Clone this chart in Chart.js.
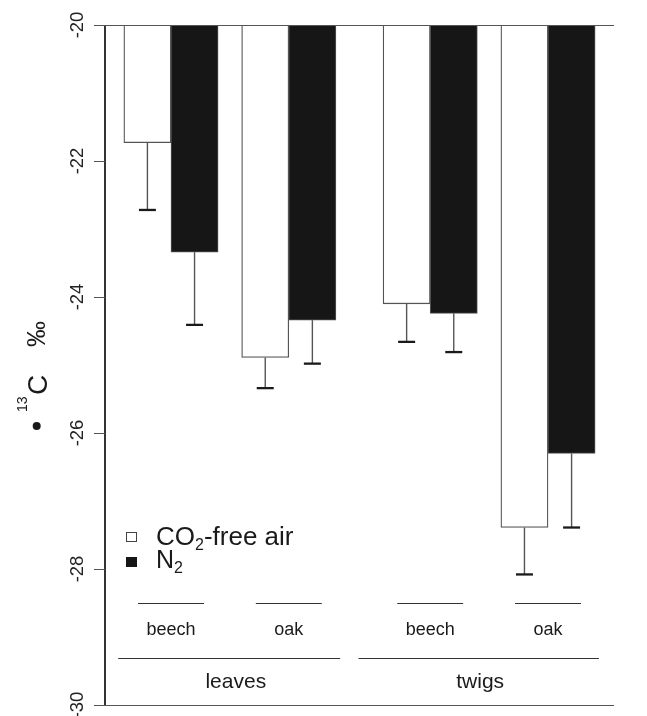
<!DOCTYPE html>
<html>
<head>
<meta charset="utf-8">
<script src="https://cdn.jsdelivr.net/npm/chart.js@4/dist/chart.umd.min.js"></script>
<style>
  body { margin: 0; background: #fff; }
  #wrap { width: 647px; height: 716px; }
</style>
</head>
<body>
<div id="wrap"><canvas id="grafico" width="647" height="716"></canvas></div>
<script>
// dados
const tissues = ['leaves', 'leaves', 'twigs', 'twigs'];
const species = ['beech', 'oak', 'beech', 'oak'];
const seriesNames = ['CO₂-free air', 'N₂'];
const co2Free = [-21.73, -24.89, -24.10, -27.39];
const co2FreeErr = [0.99, 0.45, 0.56, 0.69];
const n2 = [-23.34, -24.34, -24.24, -26.30];
const n2Err = [1.07, 0.64, 0.57, 1.09];
const yTicks = [-20, -22, -24, -26, -28, -30];
const yTitle = ['•', '13', 'C', '‰'];

const FONT = '"Liberation Sans", Arial, Helvetica, sans-serif';

// posicao de cada grupo no eixo x (estilo barplot do R: espaco 0.5 dentro, 1 entre tecidos)
let inicio = [];
let p = 0;
species.forEach((s, i) => {
  if (i > 0) p += tissues[i] !== tissues[i - 1] ? 1 : 0.5;
  inicio.push(p);
  p += 2;
});
const xMax = p;

const dadosBranco = co2Free.map((v, i) => ({ x: inicio[i] + 0.5, y: v }));
const dadosPreto = n2.map((v, i) => ({ x: inicio[i] + 1.5, y: v }));

function textoSub(ctx, txt, x, y, size) {
  // desenha o "₂" como subscrito
  let partes = txt.split('₂');
  let cx = x;
  partes.forEach((parte, i) => {
    ctx.font = size + 'px ' + FONT;
    ctx.fillText(parte, cx, y);
    cx += ctx.measureText(parte).width;
    if (i < partes.length - 1) {
      ctx.font = Math.round(size * 0.62) + 'px ' + FONT;
      ctx.fillText('2', cx, y + size * 0.2);
      cx += ctx.measureText('2').width;
    }
  });
}

const extras = {
  id: 'extras',
  afterDatasetsDraw(chart) {
    let ctx = chart.ctx;
    let xs = chart.scales.x;
    let ys = chart.scales.y;
    let area = chart.chartArea;
    ctx.save();

    // barras de erro
    [[dadosBranco, co2FreeErr], [dadosPreto, n2Err]].forEach(([dados, err]) => {
      dados.forEach((d, i) => {
        let px = xs.getPixelForValue(d.x);
        let y0 = ys.getPixelForValue(d.y);
        let y1 = ys.getPixelForValue(d.y - err[i]);
        ctx.strokeStyle = '#555';
        ctx.lineWidth = 1.4;
        ctx.beginPath();
        ctx.moveTo(px, y0);
        ctx.lineTo(px, y1);
        ctx.stroke();
        ctx.strokeStyle = '#1a1a1a';
        ctx.lineWidth = 2.3;
        ctx.beginPath();
        ctx.moveTo(px - 8.5, y1);
        ctx.lineTo(px + 8.5, y1);
        ctx.stroke();
      });
    });

    // eixo y
    ctx.strokeStyle = '#333';
    ctx.lineWidth = 2;
    ctx.beginPath();
    ctx.moveTo(area.left, ys.getPixelForValue(-20));
    ctx.lineTo(area.left, ys.getPixelForValue(-30));
    ctx.stroke();

    ctx.lineWidth = 1;
    ctx.strokeStyle = '#555';
    yTicks.forEach(t => {
      let py = Math.round(ys.getPixelForValue(t)) + 0.5;
      let fim = (t === yTicks[0] || t === yTicks[yTicks.length - 1]) ? area.right : area.left;
      ctx.beginPath();
      ctx.moveTo(area.left - 11, py);
      ctx.lineTo(fim, py);
      ctx.stroke();
      ctx.save();
      ctx.translate(area.left - 22.5, ys.getPixelForValue(t));
      ctx.rotate(-Math.PI / 2);
      ctx.fillStyle = '#222';
      ctx.font = '18.5px ' + FONT;
      ctx.textAlign = 'center';
      ctx.textBaseline = 'alphabetic';
      ctx.fillText(String(t), 0, 0);
      ctx.restore();
    });

    // titulo do eixo y
    ctx.save();
    ctx.translate(46.7, 0);
    ctx.rotate(-Math.PI / 2);
    ctx.fillStyle = '#1a1a1a';
    ctx.beginPath();
    ctx.arc(-426, -10, 4, 0, Math.PI * 2);
    ctx.fill();
    ctx.textBaseline = 'alphabetic';
    ctx.font = '14px ' + FONT;
    ctx.fillText(yTitle[1], -412, -20);
    ctx.font = '28px ' + FONT;
    ctx.fillText(yTitle[2], -395, 0);
    ctx.font = '26px ' + FONT;
    ctx.fillText(yTitle[3], -347, -1.5);
    ctx.restore();

    // rotulos do eixo x: especies
    let yEsp = 603.5;
    ctx.strokeStyle = '#333';
    ctx.fillStyle = '#1a1a1a';
    ctx.textAlign = 'center';
    species.forEach((s, i) => {
      let c = inicio[i] + 1;
      ctx.beginPath();
      ctx.moveTo(xs.getPixelForValue(c - 0.7), yEsp);
      ctx.lineTo(xs.getPixelForValue(c + 0.7), yEsp);
      ctx.stroke();
      ctx.font = '18px ' + FONT;
      ctx.fillText(s, xs.getPixelForValue(c), 635);
    });

    // tecidos
    let yTec = 658.5;
    let grupos = [
      { nome: tissues[0], a: inicio[0] - 0.12, b: inicio[1] + 2.09, c: inicio[0] + 2.375 },
      { nome: tissues[2], a: inicio[2] - 0.52, b: inicio[3] + 2.08, c: inicio[2] + 2.06 }
    ];
    grupos.forEach(g => {
      ctx.beginPath();
      ctx.moveTo(xs.getPixelForValue(g.a), yTec);
      ctx.lineTo(xs.getPixelForValue(g.b), yTec);
      ctx.stroke();
      ctx.font = '21px ' + FONT;
      ctx.fillText(g.nome, xs.getPixelForValue(g.c), 688);
    });

    // legenda
    ctx.textAlign = 'left';
    ctx.fillStyle = '#fff';
    ctx.strokeStyle = '#444';
    ctx.fillRect(126.5, 532.5, 10, 9);
    ctx.strokeRect(126.5, 532.5, 10, 9);
    ctx.fillStyle = '#161616';
    ctx.fillRect(126, 557, 11, 10);
    ctx.fillStyle = '#1a1a1a';
    textoSub(ctx, seriesNames[0], 156, 545, 26);
    textoSub(ctx, seriesNames[1], 156, 568, 25);

    ctx.restore();
  }
};

new Chart(document.getElementById('grafico').getContext('2d'), {
  type: 'bar',
  data: {
    datasets: [
      {
        label: seriesNames[0],
        data: dadosBranco,
        base: -20,
        backgroundColor: '#ffffff',
        borderColor: '#555',
        borderWidth: 1.3,
        borderSkipped: false
      },
      {
        label: seriesNames[1],
        data: dadosPreto,
        base: -20,
        backgroundColor: '#161616',
        borderColor: '#555',
        borderWidth: 1,
        borderSkipped: false
      }
    ]
  },
  options: {
    responsive: false,
    animation: false,
    devicePixelRatio: 1,
    layout: { padding: { left: 105, right: 33, top: 25, bottom: 11 } },
    datasets: { bar: { grouped: false, barPercentage: 1, categoryPercentage: 1 } },
    plugins: { legend: { display: false }, tooltip: { enabled: false } },
    scales: {
      x: { type: 'linear', offset: false, min: -0.4, max: xMax + 0.4, display: false },
      y: { min: -30, max: -20, display: false }
    }
  },
  plugins: [extras]
});
</script>
</body>
</html>
